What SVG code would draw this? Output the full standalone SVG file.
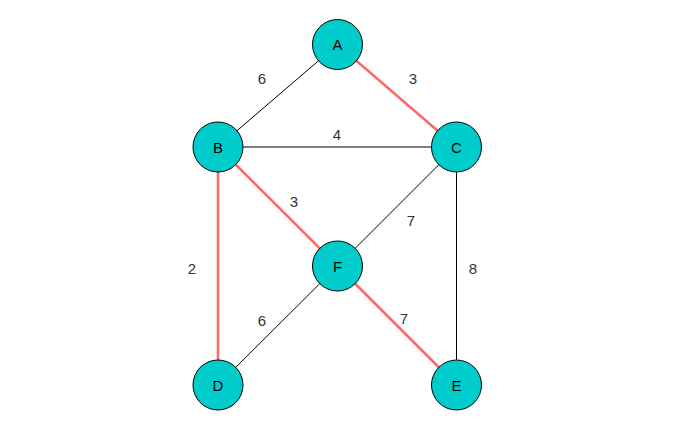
<svg xmlns="http://www.w3.org/2000/svg" width="688" height="427" viewBox="0 0 688 427">
<style>
.e{stroke:#000;stroke-width:1;fill:none}
.r{stroke:#FF6666;stroke-width:2.5;fill:none}
.n circle{fill:#00CCCC;stroke:#000;stroke-width:1}
text{font-family:"Liberation Sans",Arial,sans-serif;font-size:15px;text-anchor:middle;dominant-baseline:central}
.n text{fill:#000}
.l{fill:#333}
</style>
<rect width="688" height="427" fill="#fff"/>
<g id="connectors">
<line class="e" x1="337.5" y1="44.5" x2="218" y2="147"/>
<line class="r" x1="337.5" y1="44.5" x2="456.5" y2="147"/>
<line class="e" x1="218" y1="147" x2="456.5" y2="147"/>
<line class="r" x1="218" y1="147" x2="337.5" y2="266"/>
<line class="r" x1="218" y1="147" x2="218" y2="385"/>
<line class="e" x1="456.5" y1="147" x2="337.5" y2="266"/>
<line class="e" x1="456.5" y1="147" x2="456.5" y2="385"/>
<line class="e" x1="337.5" y1="266" x2="218" y2="385"/>
<line class="r" x1="337.5" y1="266" x2="456.5" y2="385"/>
<text class="l" x="262" y="78">6</text>
<text class="l" x="413" y="78">3</text>
<text class="l" x="337" y="134">4</text>
<text class="l" x="294" y="201">3</text>
<text class="l" x="411" y="220">7</text>
<text class="l" x="192" y="268">2</text>
<text class="l" x="473" y="268">8</text>
<text class="l" x="262" y="320">6</text>
<text class="l" x="404" y="318">7</text>
</g>
<g id="A" class="n"><circle cx="337.5" cy="44.5" r="25"/><text x="337.5" y="44.5">A</text></g>
<g id="B" class="n"><circle cx="218" cy="147" r="25"/><text x="218" y="147">B</text></g>
<g id="C" class="n"><circle cx="456.5" cy="147" r="25"/><text x="456.5" y="147">C</text></g>
<g id="F" class="n"><circle cx="337.5" cy="266" r="25"/><text x="337.5" y="266">F</text></g>
<g id="D" class="n"><circle cx="218" cy="385" r="25"/><text x="218" y="385">D</text></g>
<g id="E" class="n"><circle cx="456.5" cy="385" r="25"/><text x="456.5" y="385">E</text></g>
</svg>
